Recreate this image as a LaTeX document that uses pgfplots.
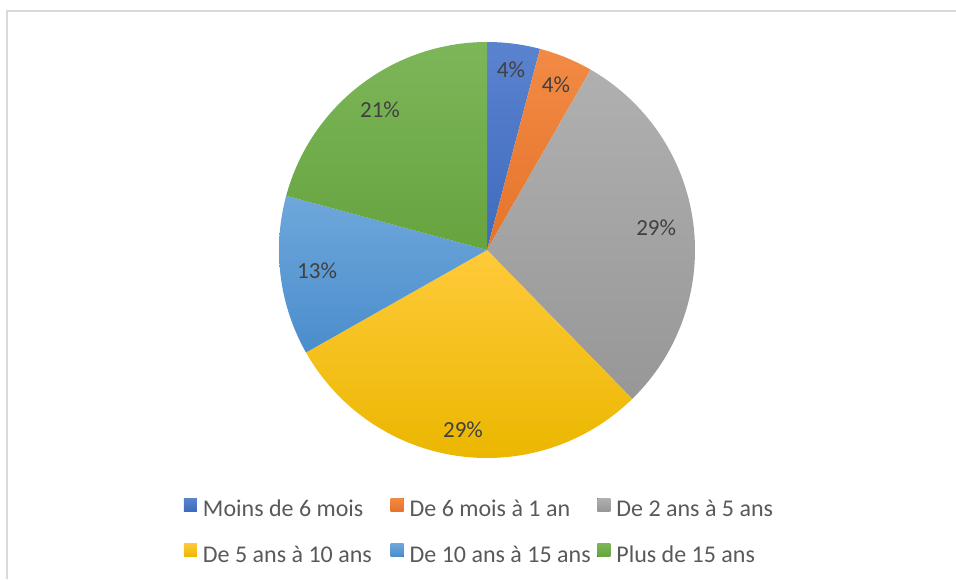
\documentclass[border=0pt]{standalone}
\usepackage{pgfplots}
\pgfplotsset{compat=1.18}
\usepgfplotslibrary{polar}
\usepackage{fontspec}
\setmainfont{Carlito}
\definecolor{frameC}{HTML}{D9D9D9}
\definecolor{lblC}{HTML}{404040}
\definecolor{legC}{HTML}{595959}
\definecolor{bT}{HTML}{5A83CF}\definecolor{bB}{HTML}{3F6BBE}
\definecolor{oT}{HTML}{F28A45}\definecolor{oB}{HTML}{E5742A}
\definecolor{gT}{HTML}{B0B0B0}\definecolor{gB}{HTML}{979797}
\definecolor{yT}{HTML}{FFCA3A}\definecolor{yB}{HTML}{EBB700}
\definecolor{lT}{HTML}{6EA7DB}\definecolor{lB}{HTML}{4A8DCC}
\definecolor{vT}{HTML}{7DB659}\definecolor{vB}{HTML}{66A43F}
\newcommand{\legbox}[1]{\makebox[187.7pt][l]{#1}}
% shares (percent), cumulative: 0, 4.1, 8.3, 37.7, 66.8, 79.2, 100
\begin{document}
\begin{tikzpicture}[x=1pt,y=1pt]
\useasboundingbox (0,0) rectangle (956,579);
\draw[frameC, line width=2pt] (7,0) -- (7,568) -- (956,568);
\begin{polaraxis}[
  hide axis, scale only axis, width=416pt, height=416pt,
  ymin=0, ymax=1, clip=false,
  at={(487pt,329pt)}, anchor=center,
  legend columns=3,
  legend cell align=left,
  legend style={draw=none, fill=none, inner sep=0pt, outer sep=0pt,
    at={(-0.2284,-0.0962)}, anchor=north west,
    row sep=21pt,
    /tikz/every odd column/.style={column sep=6pt},
    nodes={inner sep=0pt, text height=17pt, text depth=6pt,
      font=\fontsize{24}{28}\selectfont, text=legC}},
  legend image code/.code={\fill[#1] (0pt,0pt) rectangle (13pt,13pt);},
]
\addplot[draw=none, top color=bT, bottom color=bB, domain={90-3.6*4.1}:{90}, samples=40] {1} -- (axis cs:0,0) -- cycle;
\addlegendentry{\legbox{Moins de 6 mois}}
\addplot[draw=none, top color=oT, bottom color=oB, domain={90-3.6*8.3}:{90-3.6*4.1}, samples=40] {1} -- (axis cs:0,0) -- cycle;
\addlegendentry{\legbox{De 6 mois à 1 an}}
\addplot[draw=none, top color=gT, bottom color=gB, domain={90-3.6*37.7}:{90-3.6*8.3}, samples=80] {1} -- (axis cs:0,0) -- cycle;
\addlegendentry{\legbox{De 2 ans à 5 ans}}
\addplot[draw=none, top color=yT, bottom color=yB, domain={90-3.6*66.8}:{90-3.6*37.7}, samples=80] {1} -- (axis cs:0,0) -- cycle;
\addlegendentry{\legbox{De 5 ans à 10 ans}}
\addplot[draw=none, top color=lT, bottom color=lB, domain={90-3.6*79.2}:{90-3.6*66.8}, samples=60] {1} -- (axis cs:0,0) -- cycle;
\addlegendentry{\legbox{De 10 ans à 15 ans}}
\addplot[draw=none, top color=vT, bottom color=vB, domain={90-3.6*100}:{90-3.6*79.2}, samples=60] {1} -- (axis cs:0,0) -- cycle;
\addlegendentry{\legbox{Plus de 15 ans}}
\begin{scope}[every node/.style={font=\fontsize{23}{27}\selectfont, text=lblC}]
\node at (axis cs:82.4,0.873) {4\%};
\node at (axis cs:67.3,0.86) {4\%};
\node at (axis cs:7.4,0.82) {29\%};
\node at (axis cs:262.4,0.873) {29\%};
\node at (axis cs:187,0.823) {13\%};
\node at (axis cs:127.4,0.847) {21\%};
\end{scope}
\end{polaraxis}
\end{tikzpicture}
\end{document}
